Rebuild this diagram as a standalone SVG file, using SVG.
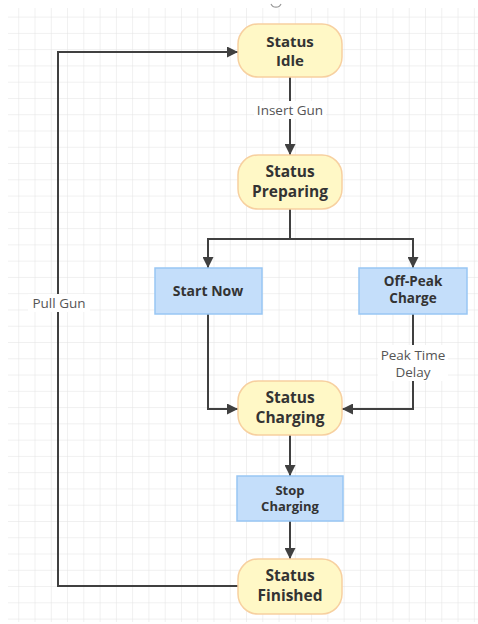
<svg xmlns="http://www.w3.org/2000/svg" width="478" height="624" viewBox="0 0 478 624">
<style>
.state rect{fill:#FFF8C6;stroke:#F7D0A0;stroke-width:1.5}
.task rect{fill:#C4DEFA;stroke:#98C6F4;stroke-width:1.5}
.state text{font-family:"Open Sans","Noto Sans",sans-serif;font-weight:bold;font-size:15.5px;fill:#333;text-anchor:middle}
.task text{font-family:"Open Sans","Noto Sans",sans-serif;font-weight:bold;font-size:14px;fill:#333;text-anchor:middle}
.edge{fill:none;stroke:#404040;stroke-width:2}
.lbl{font-family:"Open Sans","Noto Sans",sans-serif;font-size:13.5px;fill:#555;text-anchor:middle}
.lblbg{fill:#fff}
</style>
<defs>
<pattern id="grid" x="2" y="0.35" width="16.27" height="16.27" patternUnits="userSpaceOnUse">
<path d="M0,0 H16.27 M0,0 V16.27" fill="none" stroke="#e2e2e2" stroke-width="1"/>
</pattern>
<marker id="arr" viewBox="0 0 10 10" refX="10" refY="5" markerWidth="5.5" markerHeight="5.5" orient="auto" markerUnits="strokeWidth">
<path d="M0,0 L10,5 L0,10 Z" fill="#404040"/>
</marker>
</defs>
<rect x="0" y="0" width="478" height="624" fill="#fff"/>
<rect x="8" y="8" width="470" height="614" fill="url(#grid)"/>
<path d="M271,4 A5.5,5.5 0 0 0 281,4" fill="none" stroke="#999" stroke-width="1.2"/>

<g id="connectors">
<path class="edge" d="M290,77 V155" marker-end="url(#arr)"/>
<path class="edge" d="M290,209 V239 H208 V268" marker-end="url(#arr)"/>
<path class="edge" d="M290,239 H413 V268" marker-end="url(#arr)"/>
<path class="edge" d="M208,314 V409 H238" marker-end="url(#arr)"/>
<path class="edge" d="M413,314 V409 H342" marker-end="url(#arr)"/>
<path class="edge" d="M290,435 V476" marker-end="url(#arr)"/>
<path class="edge" d="M290,521 V559" marker-end="url(#arr)"/>
<path class="edge" d="M238,586 H58 V52 H238" marker-end="url(#arr)"/>
<rect class="lblbg" x="254" y="101" width="72" height="18"/>
<text class="lbl" x="290" y="115">Insert Gun</text>
<rect class="lblbg" x="28" y="294" width="62" height="18"/>
<text class="lbl" x="59" y="308">Pull Gun</text>
<rect class="lblbg" x="378" y="345" width="70" height="36"/>
<text class="lbl" x="413" y="360">Peak Time<tspan x="413" dy="17">Delay</tspan></text>
</g>

<g id="idle" class="state">
<rect x="238" y="24" width="104" height="53" rx="20"/>
<text x="290" y="46.5" style="font-size:15px">Status<tspan x="290" dy="19.5">Idle</tspan></text>
</g>
<g id="preparing" class="state">
<rect x="238" y="155" width="104" height="54" rx="20"/>
<text x="290" y="177">Status<tspan x="290" dy="20">Preparing</tspan></text>
</g>
<g id="startnow" class="task">
<rect x="155" y="268" width="107" height="46"/>
<text x="208" y="296">Start Now</text>
</g>
<g id="offpeak" class="task">
<rect x="359" y="268" width="108" height="46"/>
<text x="413" y="285.5" style="font-size:13.5px">Off-Peak<tspan x="413" dy="17.4">Charge</tspan></text>
</g>
<g id="charging" class="state">
<rect x="238" y="381" width="104" height="54" rx="20"/>
<text x="290" y="403">Status<tspan x="290" dy="20">Charging</tspan></text>
</g>
<g id="stop" class="task">
<rect x="237" y="476" width="106" height="45"/>
<text x="290" y="494.5" style="font-size:13px">Stop<tspan x="290" dy="16.7">Charging</tspan></text>
</g>
<g id="finished" class="state">
<rect x="238" y="559" width="104" height="55" rx="20"/>
<text x="290" y="581">Status<tspan x="290" dy="20">Finished</tspan></text>
</g>
</svg>
